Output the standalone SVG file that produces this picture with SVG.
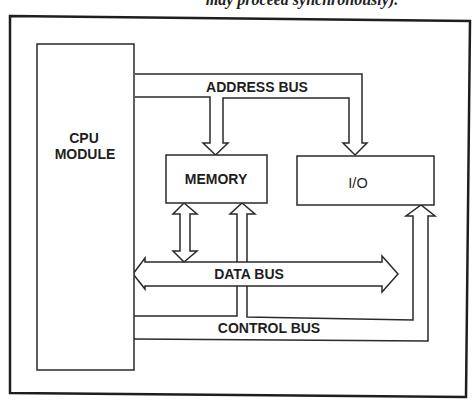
<svg xmlns="http://www.w3.org/2000/svg" width="474" height="403" viewBox="0 0 474 403">
<style>
.ln{fill:none;stroke:#2a2a2a;stroke-width:1.5;stroke-linejoin:miter}
.bx{fill:#fff;stroke:#2a2a2a;stroke-width:1.5}
.lb{font-family:"Liberation Sans",Arial,sans-serif;font-weight:bold;font-size:14px;fill:#1e1e1e;text-anchor:middle}
.io{font-weight:normal;font-size:14.5px}
</style>
<rect width="474" height="403" fill="#fff"/>
<text x="302" y="4.5" font-family="Liberation Serif,serif" font-weight="bold" font-style="italic" font-size="16" fill="#222" text-anchor="middle">may proceed synchronously).</text>
<polygon id="frame" points="10,16 470,21 466,397 10,393" fill="none" stroke="#1e1e1e" stroke-width="2.5"/>
<g id="connectors">
<polyline id="address-bus" class="ln" points="135,74 362,74 362,143 367,143 355,155 343,143 349,143 349,98 223,98 223,143 228,143 215.5,155 203,143 210,143 210,97 135,97"/>
<polyline id="control-bus" class="ln" points="133,316 237,316 237,214 230,214 242,203 255,214 247,214 247,317 413,320 413,216 406,216 421,205 435,216 428,216 428,341 133,339"/>
<polygon id="data-bus" class="bx" points="133,274 145,258 145,262 382,262 382,256 398,274 382,292 382,286 145,286 145,289"/>
<polygon id="memory-data" class="bx" points="184,203 197,214 190,214 190,251 197,251 184,262 173,251 180,251 180,214 173,214"/>
</g>
<g id="cpu">
<rect class="bx" x="37" y="44" width="97" height="326"/>
<text class="lb" x="84" y="143">CPU</text>
<text class="lb" x="85" y="159">MODULE</text>
</g>
<g id="memory">
<rect class="bx" x="166" y="155" width="101" height="48"/>
<text class="lb" x="216" y="184">MEMORY</text>
</g>
<g id="io">
<rect class="bx" x="297" y="156" width="137" height="49"/>
<text class="lb io" x="358" y="188">I/O</text>
</g>
<text class="lb" x="257" y="92">ADDRESS BUS</text>
<text class="lb" x="249" y="279">DATA BUS</text>
<text class="lb" x="269" y="333">CONTROL BUS</text>
</svg>
